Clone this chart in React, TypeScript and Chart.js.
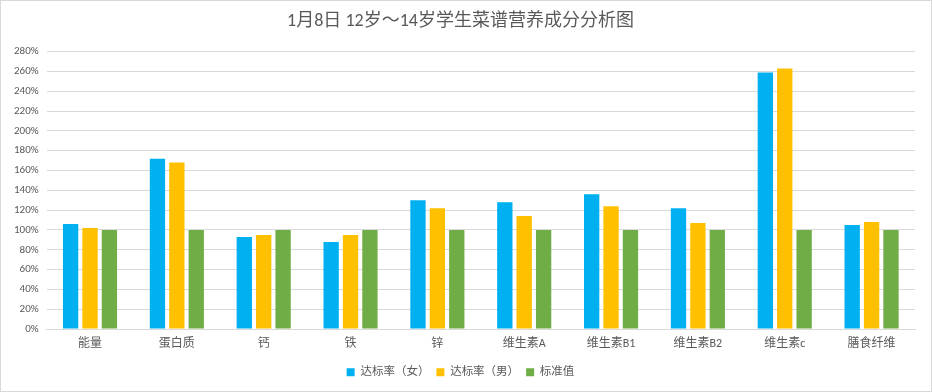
import React, { useEffect, useRef } from "react";
import { Chart, registerables } from "chart.js";

Chart.register(...registerables);

const categories = ["能量", "蛋白质", "钙", "铁", "锌", "维生素A", "维生素B1", "维生素B2", "维生素c", "膳食纤维"];
const femaleRate = [106, 172, 93, 88, 130, 128, 136, 122, 259, 105];
const maleRate = [102, 168, 95, 95, 122, 114, 124, 107, 263, 108];
const standardValue = [100, 100, 100, 100, 100, 100, 100, 100, 100, 100];
const seriesNames = ["达标率（女）", "达标率（男）", "标准值"];
const titleText = "1月8日 12岁～14岁学生菜谱营养成分分析图";

const FONT = "Calibri, Carlito, 'Noto Sans CJK SC', 'Noto Sans', sans-serif";

export default function App() {
  const ref = useRef<HTMLCanvasElement | null>(null);
  useEffect(() => {
    document.body.style.margin = "0";
    const ctx = ref.current!;
    const chart = new Chart(ctx, {
      type: "bar",
      data: {
        labels: categories,
        datasets: [
          { label: seriesNames[0], data: femaleRate, backgroundColor: "#00b0f0" },
          { label: seriesNames[1], data: maleRate, backgroundColor: "#ffc000" },
          { label: seriesNames[2], data: standardValue, backgroundColor: "#70ad47" },
        ],
      },
      options: {
        animation: false,
        responsive: false,
        maintainAspectRatio: false,
        layout: { padding: { left: 5, right: 16, top: 4, bottom: 3 } },
        datasets: { bar: { categoryPercentage: 0.67, barPercentage: 0.79 } },
        plugins: {
          title: {
            display: true,
            text: titleText,
            color: "#595959",
            font: { family: FONT, size: 18, weight: "normal" },
            padding: { top: 6, bottom: 19 },
          },
          legend: {
            position: "bottom",
            labels: {
              color: "#595959",
              font: { family: FONT, size: 11.5 },
              boxWidth: 8,
              boxHeight: 8,
              padding: 7,
            },
          },
          tooltip: { enabled: false },
        },
        scales: {
          x: {
            grid: { display: false, drawTicks: false },
            border: { display: true, color: "#d9d9d9" },
            ticks: { color: "#595959", font: { family: FONT, size: 12 }, padding: 8 },
          },
          y: {
            min: 0,
            max: 280,
            ticks: {
              stepSize: 20,
              color: "#595959",
              font: { family: FONT, size: 11 },
              padding: 8,
              callback: (v: any) => v + "%",
            },
            grid: { color: "#d9d9d9", drawTicks: false },
            border: { display: false },
          },
        },
      },
    });
    return () => chart.destroy();
  }, []);
  return (
    <div style={{ width: 932, height: 392, boxSizing: "border-box", border: "1px solid #d9d9d9", background: "#fff" }}>
      <canvas ref={ref} width={930} height={390} style={{ display: "block" }} />
    </div>
  );
}
